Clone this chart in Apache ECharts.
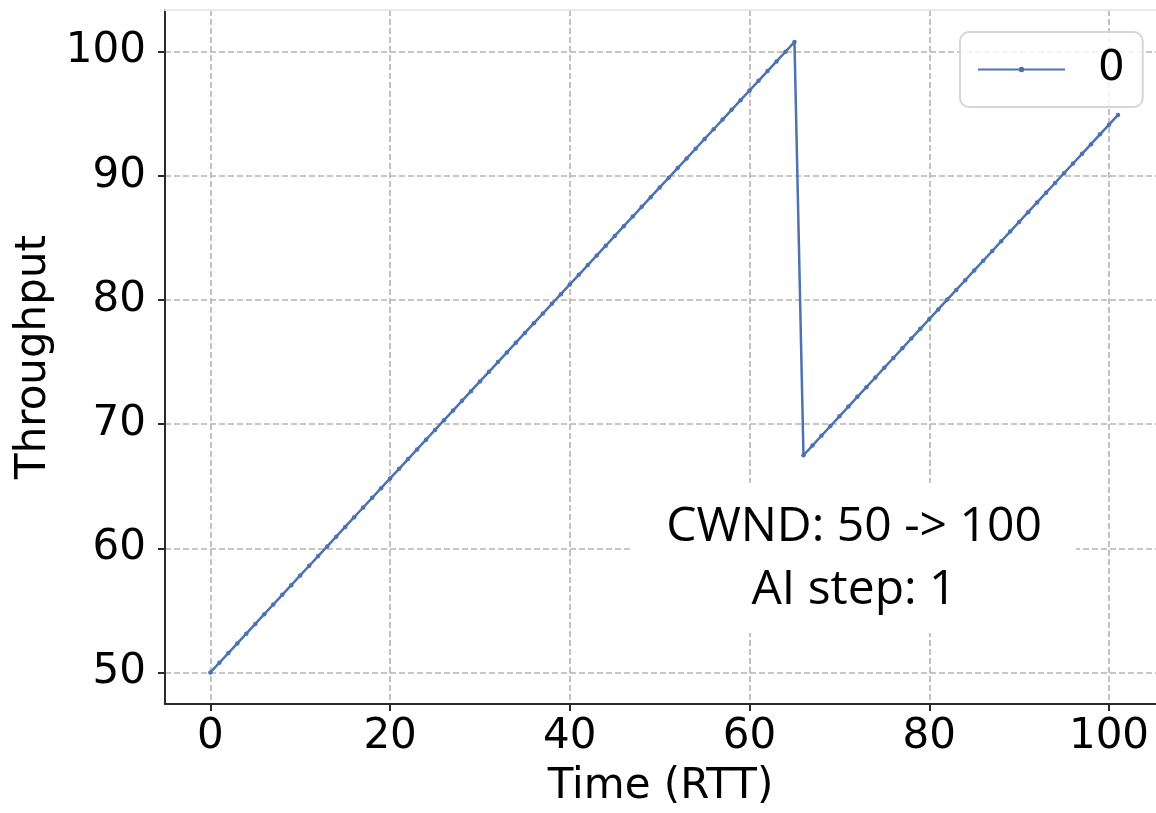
<!DOCTYPE html>
<html>
<head>
<meta charset="utf-8">
<script src="https://cdn.jsdelivr.net/npm/echarts@6/dist/echarts.min.js"></script>
<style>
html,body{margin:0;padding:0;background:#fff;}
#chart{width:1156px;height:813px;}
</style>
</head>
<body>
<div id="chart"></div>
<script>
// Time (RTT) index
const timeRTT = [
  0,1,2,3,4,5,6,7,8,9,10,11,12,13,14,15,16,17,18,19,20,
  21,22,23,24,25,26,27,28,29,30,31,32,33,34,35,36,37,38,39,40,
  41,42,43,44,45,46,47,48,49,50,51,52,53,54,55,56,57,58,59,60,
  61,62,63,64,65,66,67,68,69,70,71,72,73,74,75,76,77,78,79,80,
  81,82,83,84,85,86,87,88,89,90,91,92,93,94,95,96,97,98,99,100,101
];
// Throughput of flow "0"
const throughput0 = [
  50.00,50.78,51.56,52.34,53.12,53.91,54.69,55.47,56.25,57.03,57.81,
  58.59,59.37,60.15,60.93,61.72,62.50,63.28,64.06,64.84,65.62,
  66.40,67.18,67.96,68.74,69.53,70.31,71.09,71.87,72.65,73.43,
  74.21,74.99,75.77,76.55,77.34,78.12,78.90,79.68,80.46,81.24,
  82.02,82.80,83.58,84.36,85.15,85.93,86.71,87.49,88.27,89.05,
  89.83,90.61,91.39,92.17,92.96,93.74,94.52,95.30,96.08,96.86,
  97.64,98.42,99.20,99.98,100.77,
  67.49,68.27,69.06,69.84,70.62,71.41,72.19,72.97,73.75,74.54,
  75.32,76.10,76.89,77.67,78.45,79.23,80.02,80.80,81.58,82.37,
  83.15,83.93,84.72,85.50,86.28,87.06,87.85,88.63,89.41,90.20,
  90.98,91.76,92.54,93.33,94.11,94.89
];
const seriesName = '0';
const xTicks = [0, 20, 40, 60, 80, 100];
const yTicks = [50, 60, 70, 80, 90, 100];
const xName = 'Time (RTT)';
const yName = 'Throughput';
const noteLines = ['CWND: 50 -> 100', 'AI step: 1'];

const FONT = '"DejaVu Sans"';
const data = timeRTT.map((t, i) => [t, throughput0[i]]);

const chart = echarts.init(document.getElementById('chart'), null, {renderer: 'canvas'});
const gridLine = {show: true, lineStyle: {color: '#b4b4b4', width: 1.6, type: [6, 3]}};
const axisLine = {show: true, onZero: false, lineStyle: {color: '#2b2b2b', width: 2}};

chart.setOption({
  animation: false,
  backgroundColor: '#ffffff',
  grid: {left: 165, right: 0, top: 10, bottom: 107, containLabel: false},
  xAxis: [{
    type: 'value', min: -5.05, max: 105.23, position: 'bottom',
    axisLine: axisLine,
    axisTick: {show: true, length: 7, inside: false, customValues: xTicks, lineStyle: {color: '#2b2b2b', width: 2}},
    axisLabel: {customValues: xTicks, fontFamily: FONT, fontSize: 42, color: '#000', margin: 12},
    splitLine: gridLine,
    name: xName, nameLocation: 'middle', nameGap: 62,
    nameTextStyle: {fontFamily: FONT, fontSize: 42, color: '#000'}
  }, {
    type: 'value', min: -5.05, max: 105.23, position: 'top',
    axisLine: {show: true, onZero: false, lineStyle: {color: '#e8e8e8', width: 2}},
    axisTick: {show: false}, axisLabel: {show: false}, splitLine: {show: false}
  }],
  yAxis: {
    type: 'value', min: 47.46, max: 103.34,
    axisLine: axisLine,
    axisTick: {show: true, length: 7, customValues: yTicks, lineStyle: {color: '#2b2b2b', width: 2}},
    axisLabel: {customValues: yTicks, fontFamily: FONT, fontSize: 42, color: '#000', margin: 19},
    splitLine: gridLine,
    name: yName, nameLocation: 'middle', nameGap: 110,
    nameTextStyle: {fontFamily: FONT, fontSize: 42, color: '#000'}
  },
  legend: {
    show: true, left: 960, top: 32,
    data: [seriesName],
    orient: 'vertical',
    itemWidth: 87, itemHeight: 7,
    padding: [16, 18, 16, 17],
    backgroundColor: 'rgba(255,255,255,0.8)',
    borderColor: '#d6d6d6', borderWidth: 2, borderRadius: 9,
    textStyle: {fontFamily: FONT, fontSize: 42, color: '#000', padding: [0, 0, 0, 28], lineHeight: 43}
  },
  series: [{
    name: seriesName, type: 'line', xAxisIndex: 0,
    data: data,
    color: '#4c72b0',
    lineStyle: {color: '#4c72b0', width: 2.5},
    symbol: 'circle', symbolSize: 4.5, showSymbol: true,
    itemStyle: {color: '#4c72b0'},
    z: 5
  }],
  graphic: [
    {type: 'rect', shape: {x: 633, y: 483, width: 443, height: 150}, style: {fill: '#ffffff'}, z: 3},
    {type: 'text', x: 854, y: 527, style: {text: noteLines[0], font: '48px "Open Sans"', fill: '#000', textAlign: 'center', textVerticalAlign: 'middle'}, z: 4},
    {type: 'text', x: 854, y: 590, style: {text: noteLines[1], font: '48px "Open Sans"', fill: '#000', textAlign: 'center', textVerticalAlign: 'middle'}, z: 4}
  ]
});
</script>
</body>
</html>
